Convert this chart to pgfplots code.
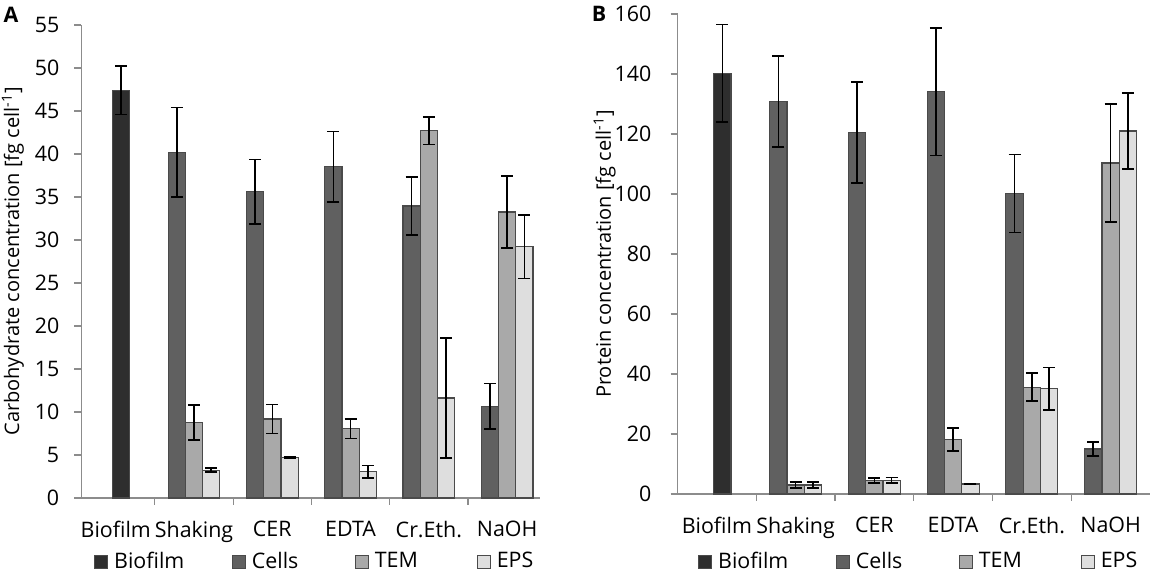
\documentclass[border=0pt]{standalone}
\usepackage{pgfplots}
\pgfplotsset{compat=1.18}
\usepackage{fontspec}
\setmainfont{Open Sans}
\definecolor{cBio}{HTML}{2E2E2E}
\definecolor{cCel}{HTML}{606060}
\definecolor{cTEM}{HTML}{A9A9A9}
\definecolor{cEPS}{HTML}{DEDEDE}
\definecolor{axgray}{HTML}{8C8C8C}
\definecolor{bord}{HTML}{4A4A4A}
\newcommand{\fs}{\fontsize{10.7}{12}\selectfont}
\pgfplotsset{
  myax/.style={
    scale only axis, anchor=south west,
    axis x line*=bottom, axis y line*=left,
    axis line style={axgray, line width=0.6pt},
    tick style={axgray, line width=0.6pt},
    tick align=outside,
    major tick length=3.5pt, minor tick length=3.5pt,
    xtick={0,...,5},
    xticklabels={Biofilm,Shaking,CER,EDTA,Cr.Eth.,NaOH},
    minor xtick={0.5,1.5,2.5,3.5,4.5},
    major x tick style={draw=none},
    xticklabel style={yshift=-4.5pt},
    ybar, bar width=0.22, bar shift=0pt,
    ymin=0, clip=false,
    tick label style={font=\fs},
    label style={font=\fs},
    /pgf/number format/assume math mode=true,
    legend image code/.code={\draw[##1, line width=0.5pt] (0pt,-3.25pt) rectangle (6.5pt,3.25pt);},
    legend style={draw=none, fill=none, inner sep=0pt, outer sep=0pt, anchor=west,
      legend columns=4, font=\fs,
      nodes={inner sep=0pt, text depth=0.15em},
      /tikz/every even column/.append style={column sep=0pt}},
    legend cell align=left,
  },
  bars/.style={draw=bord, line width=0.6pt, fill=#1,
    error bars/.cd, y dir=both, y explicit,
    error bar style={black, line width=0.8pt},
    error mark options={rotate=90, mark size=3pt, black, line width=0.8pt}},
}
\begin{document}
\begin{tikzpicture}
\path[use as bounding box] (0,0) rectangle (579pt,288.5pt);
% ---------------- Panel A ----------------
\begin{axis}[myax,
  at={(40.65pt,39.5pt)}, width=229.35pt, height=236.5pt,
  xmin=-0.44, xmax=5.42, ymax=55,
  ytick={0,5,...,55},
  yticklabel style={xshift=-4pt},
  ylabel={Carbohydrate concentration [fg cell\textsuperscript{-1}]},
  every axis y label/.style={at={(axis description cs:-0.149,0.5)}, rotate=90, anchor=center},
  legend style={at={(0.0281,-0.1347)}},
]
\addplot[bars=cBio] coordinates {(0.07,47.4) +- (0,2.8)};
\addlegendentry{\hspace{3pt}\makebox[58.85pt][l]{Biofilm}}
\addplot[bars=cCel] coordinates {(0.78,40.2) +- (0,5.2) (1.78,35.6) +- (0,3.75) (2.78,38.5) +- (0,4.1) (3.78,33.95) +- (0,3.4) (4.78,10.66) +- (0,2.67)};
\addlegendentry{\hspace{3pt}\makebox[51.45pt][l]{Cells}}
\addplot[bars=cTEM] coordinates {(1.0,8.76) +- (0,2.05) (2.0,9.19) +- (0,1.7) (3.0,8.07) +- (0,1.15) (4.0,42.7) +- (0,1.6) (5.0,33.26) +- (0,4.2)};
\addlegendentry{\hspace{3pt}\makebox[51pt][l]{TEM}}
\addplot[bars=cEPS] coordinates {(1.22,3.24) +- (0,0.25) (2.22,4.71) +- (0,0.08) (3.22,3.05) +- (0,0.73) (4.22,11.62) +- (0,6.95) (5.22,29.2) +- (0,3.7)};
\addlegendentry{\hspace{3pt}EPS}
\node[font=\bfseries\fs] at (axis description cs:-0.153,1.021) {A};
\end{axis}
% ---------------- Panel B ----------------
\begin{axis}[myax,
  at={(338.75pt,41.5pt)}, width=236.25pt, height=240pt,
  xmin=-0.5, xmax=5.5, ymax=160,
  ytick={0,20,...,160},
  yticklabel style={xshift=-6pt},
  ylabel={Protein concentration [fg cell\textsuperscript{-1}]},
  every axis y label/.style={at={(axis description cs:-0.154,0.5)}, rotate=90, anchor=center},
  legend style={at={(0.0438,-0.141)}},
]
\addplot[bars=cBio] coordinates {(0.07,140.25) +- (0,16.3)};
\addlegendentry{\hspace{3pt}\makebox[58.85pt][l]{Biofilm}}
\addplot[bars=cCel] coordinates {(0.78,130.8) +- (0,15.15) (1.78,120.5) +- (0,16.9) (2.78,134.1) +- (0,21.25) (3.78,100.1) +- (0,13) (4.78,14.97) +- (0,2.4)};
\addlegendentry{\hspace{3pt}\makebox[51.45pt][l]{Cells}}
\addplot[bars=cTEM] coordinates {(1.0,3.0) +- (0,0.95) (2.0,4.55) +- (0,0.8) (3.0,18.2) +- (0,3.8) (4.0,35.6) +- (0,4.7) (5.0,110.3) +- (0,19.6)};
\addlegendentry{\hspace{3pt}\makebox[51pt][l]{TEM}}
\addplot[bars=cEPS] coordinates {(1.22,3.0) +- (0,1.0) (2.22,4.55) +- (0,0.95) (3.22,3.33) +- (0,0.2) (4.22,35.1) +- (0,7.1) (5.22,121.0) +- (0,12.6)};
\addlegendentry{\hspace{3pt}EPS}
\node[font=\bfseries\fs] at (axis description cs:-0.166,1.0) {B};
\end{axis}
\end{tikzpicture}
\end{document}
